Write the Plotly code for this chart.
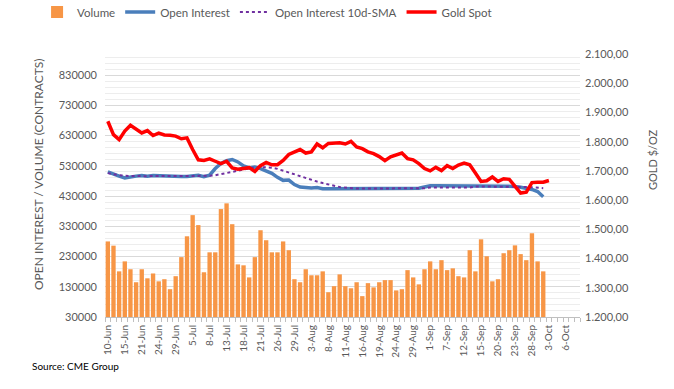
import plotly.graph_objects as go

dates = ["10-Jun","13-Jun","14-Jun","15-Jun","16-Jun","17-Jun","21-Jun","22-Jun","23-Jun","24-Jun",
         "27-Jun","28-Jun","29-Jun","30-Jun","1-Jul","5-Jul","6-Jul","7-Jul","8-Jul","11-Jul",
         "12-Jul","13-Jul","14-Jul","15-Jul","18-Jul","19-Jul","20-Jul","21-Jul","22-Jul","25-Jul",
         "26-Jul","27-Jul","28-Jul","29-Jul","1-Aug","2-Aug","3-Aug","4-Aug","5-Aug","8-Aug",
         "9-Aug","10-Aug","11-Aug","12-Aug","15-Aug","16-Aug","17-Aug","18-Aug","19-Aug","22-Aug",
         "23-Aug","24-Aug","25-Aug","26-Aug","29-Aug","30-Aug","31-Aug","1-Sep","2-Sep","6-Sep",
         "7-Sep","8-Sep","9-Sep","12-Sep","13-Sep","14-Sep","15-Sep","16-Sep","19-Sep","20-Sep",
         "21-Sep","22-Sep","23-Sep","26-Sep","27-Sep","28-Sep","29-Sep","30-Sep","3-Oct","4-Oct",
         "5-Oct","6-Oct","7-Oct","10-Oct"]

volume = [280000,266000,181000,214000,188000,145000,188000,158000,174000,148000,
          155000,122000,165000,228000,297000,367000,334000,178000,244000,244000,
          387000,406000,337000,204000,201000,161000,228000,317000,284000,244000,
          244000,280000,251000,155000,145000,188000,168000,168000,181000,112000,
          132000,171000,132000,125000,145000,99000,142000,128000,145000,152000,
          152000,118000,122000,185000,161000,138000,188000,214000,188000,218000,
          185000,191000,165000,161000,251000,181000,287000,231000,148000,155000,
          241000,251000,267000,238000,218000,307000,214000,181000]

open_interest = [510000,502000,496000,490000,494000,496000,498000,496000,498000,497000,
                 496000,496000,496000,495000,495000,497000,499000,494000,499000,521000,
                 538000,547000,551000,543000,530000,523000,526000,521000,513000,505000,
                 492000,482000,483000,468000,460000,458000,457000,458000,454000,454000,
                 454000,454000,456000,456000,455000,455000,454000,455000,456000,456000,
                 456000,455000,455000,455000,455000,456000,460000,464000,464000,464000,
                 464000,464000,464000,464000,464000,464000,464000,464000,464000,464000,
                 464000,463000,462000,459000,456000,452000,445000,428000]

oi_sma10 = [506000,502000,499000,497000,496000,496000,496000,496000,496000,496000,
            496000,496000,496000,496000,496000,496000,496000,496000,497000,499000,
            502000,506000,510000,514000,518000,522000,525000,526000,526000,524000,
            520000,514000,507000,500000,494000,488000,483000,478000,473000,468000,
            464000,460000,458000,456000,455000,455000,455000,455000,455000,455000,
            455000,455000,455000,455000,455000,455000,456000,458000,458000,458000,
            458000,458000,458000,458000,458000,462000,462000,462000,462000,462000,
            462000,462000,462000,461000,460000,459000,458000,456000]

gold_spot = [1870,1824,1807,1836,1856,1844,1830,1838,1821,1829,
             1823,1822,1819,1810,1813,1773,1738,1736,1741,1733,
             1725,1733,1710,1706,1708,1711,1698,1718,1729,1721,
             1721,1736,1756,1765,1773,1761,1765,1792,1779,1794,
             1796,1796,1792,1801,1782,1776,1765,1759,1749,1735,
             1748,1753,1761,1742,1738,1725,1708,1700,1712,1701,
             1718,1708,1720,1727,1721,1693,1664,1666,1679,1664,
             1673,1671,1649,1624,1627,1660,1661,1661,1667]

left_ticks = [30000,130000,230000,330000,430000,530000,630000,730000,830000]
right_ticks = [1200,1300,1400,1500,1600,1700,1800,1900,2000,2100]

xi = list(range(len(dates)))
label_idx = xi[::3]

GRAY = "#595959"
FONT = "Lato, 'Open Sans', sans-serif"

fig = go.Figure()
fig.add_trace(go.Bar(x=xi[:len(volume)], y=volume, name="Volume",
                     marker=dict(color="#F79646", line=dict(width=0))))
fig.add_trace(go.Scatter(x=xi[:len(open_interest)], y=open_interest, name="Open Interest",
                         mode="lines", line=dict(color="#4A7EBB", width=3.5)))
fig.add_trace(go.Scatter(x=xi[:len(oi_sma10)], y=oi_sma10, name="Open Interest 10d-SMA",
                         mode="lines", line=dict(color="#7030A0", width=2, dash="dot")))
fig.add_trace(go.Scatter(x=xi[:len(gold_spot)], y=gold_spot, name="Gold Spot", yaxis="y2",
                         mode="lines", line=dict(color="#FF0000", width=3.5)))

PW, PH = 475, 263

fig.update_layout(
    width=674, height=389,
    margin=dict(l=105, r=94, t=54, b=72),
    paper_bgcolor="white", plot_bgcolor="white",
    bargap=0.23,
    font=dict(family=FONT, size=11, color=GRAY),
    showlegend=True,
    legend=dict(orientation="h", xref="container", yref="container",
                x=0.055, xanchor="left", y=1 - 12 / 389, yanchor="middle",
                font=dict(size=11.5, color=GRAY), itemwidth=30,
                traceorder="normal", bgcolor="rgba(0,0,0,0)"),
    xaxis=dict(range=[-0.5, len(dates) - 0.5], tickmode="array",
               tickvals=label_idx, ticktext=[dates[i] for i in label_idx],
               tickangle=-90, ticks="", showgrid=False, zeroline=False,
               showline=True, linecolor="#BFBFBF", linewidth=1,
               tickfont=dict(size=10, color=GRAY), ticklabelstandoff=3,
               minor=dict(ticks="outside", tick0=-0.5, dtick=1, ticklen=4,
                          tickcolor="#BFBFBF", showgrid=False)),
    yaxis=dict(range=[30000, 900000], tickmode="array", tickvals=left_ticks,
               ticktext=[str(v) for v in left_ticks],
               showgrid=True, gridcolor="#D9D9D9", gridwidth=1, zeroline=False,
               showline=False, ticks="", tickfont=dict(size=11, color=GRAY),
               ticklabelstandoff=7,
               minor=dict(tick0=30000, dtick=20000, showgrid=True,
                          gridcolor="#EDEDED", gridwidth=1)),
    yaxis2=dict(range=[1200, 2100], overlaying="y", side="right",
                tickmode="array", tickvals=right_ticks,
                ticktext=[f"{v:,.2f}".replace(",", "X").replace(".", ",").replace("X", ".") for v in right_ticks],
                showgrid=False, zeroline=False, showline=False, ticks="",
                ticklabelstandoff=4,
                tickfont=dict(size=11, color=GRAY)),
    annotations=[
        dict(text="OPEN INTEREST / VOLUME (CONTRACTS)", xref="paper", yref="paper",
             x=(38 - 105) / PW, y=(317 - 174) / PH, textangle=-90, showarrow=False,
             xanchor="center", yanchor="middle", font=dict(size=12, color=GRAY)),
        dict(text="GOLD $/OZ", xref="paper", yref="paper",
             x=(652 - 105) / PW, y=(317 - 160) / PH, textangle=-90, showarrow=False,
             xanchor="center", yanchor="middle", font=dict(size=11, color=GRAY)),
        dict(text="Source: CME Group", xref="paper", yref="paper",
             x=(30 - 105) / PW, y=(317 - 366) / PH, xanchor="left", yanchor="middle",
             showarrow=False, font=dict(size=10, color="#000000")),
    ],
)

fig.write_html("out.html", config={"displayModeBar": False},
               post_script="document.body.style.margin='0px';document.body.style.overflow='hidden';")
